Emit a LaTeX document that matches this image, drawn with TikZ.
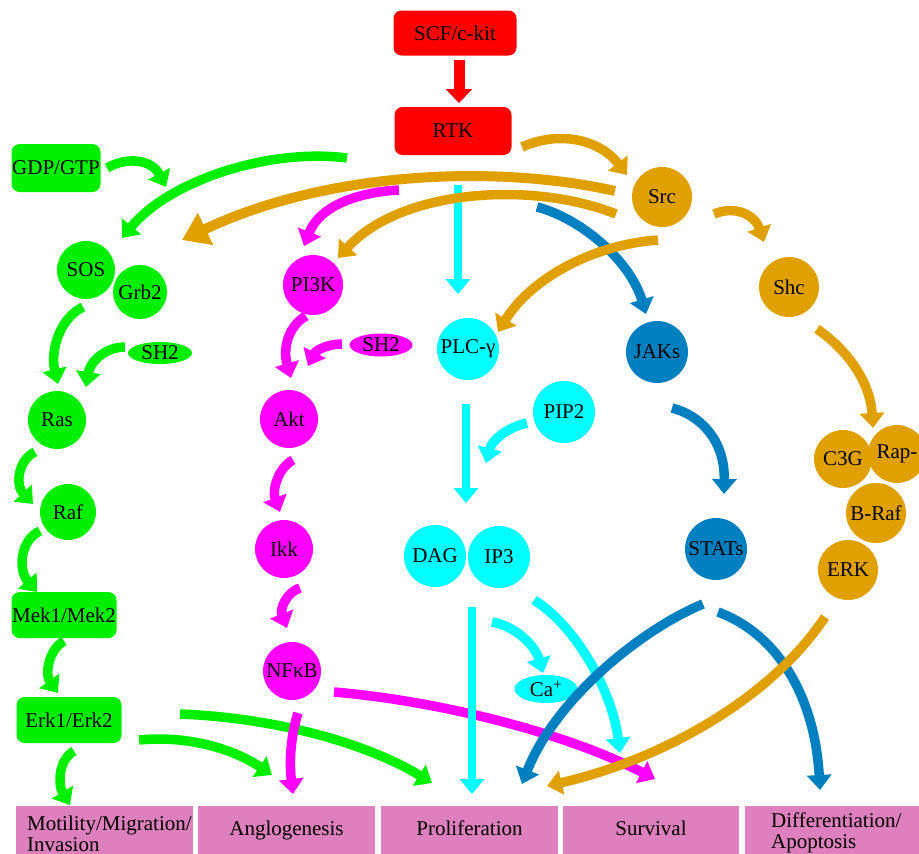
\documentclass[tikz,border=0pt]{standalone}
\usepackage{fontspec}
\setmainfont{Liberation Serif}
\usetikzlibrary{arrows.meta,calc,shapes.geometric}
\definecolor{cgreen}{RGB}{0,240,0}
\definecolor{cmag}{RGB}{255,0,255}
\definecolor{ccyan}{RGB}{0,255,255}
\definecolor{cgold}{RGB}{224,160,0}
\definecolor{cblue}{RGB}{0,128,192}
\definecolor{cred}{RGB}{255,0,0}
\definecolor{cpink}{RGB}{221,128,189}
\begin{document}
\begin{tikzpicture}[x=1pt,y=-1pt,
  font=\fontsize{21}{23}\selectfont,
  circ/.style={circle, inner sep=0pt, outer sep=0pt, minimum size=#1},
  rbox/.style={rectangle, rounded corners=8pt, inner sep=0pt, outer sep=0pt},
  oval/.style={ellipse, inner sep=0pt, outer sep=0pt},
  outbox/.style={rectangle, fill=cpink, inner sep=0pt, outer sep=0pt, minimum height=60pt, anchor=north west},
  arr/.style={line width=9.5pt, -{Triangle[width=24pt,length=15pt]}},
  bigarr/.style={line width=10pt, -{Triangle[width=34pt,length=26pt]}},
  redarr/.style={line width=11pt, -{Triangle[width=26pt,length=14pt]}}
]
\useasboundingbox (0,0) rectangle (919,854);
\clip (0,0) rectangle (919,854);

% ---------- nodes ----------
\node[rbox, fill=cred, minimum width=123pt, minimum height=45pt] (scf) at (455,33) {SCF/c-kit};
\node[rbox, fill=cred, minimum width=117pt, minimum height=48pt] (rtk) at (453,131) {RTK};
\node[rbox, fill=cgreen, minimum width=89pt, minimum height=48pt] (gdp) at (56,168) {GDP/GTP};

\node[circ=60pt, fill=cgold] (src) at (662,197) {Src};
\node[circ=60pt, fill=cgold] (shc) at (789,287) {Shc};

\node[circ=58pt, fill=cgreen] (sos) at (86,270) {SOS};
\node[circ=54pt, fill=cgreen] (grb) at (140,292) {Grb2};
\node[oval, fill=cgreen, minimum width=64pt, minimum height=22pt] (sh2g) at (160,353) {SH2};
\node[circ=58pt, fill=cgreen] (ras) at (57,420) {Ras};
\node[circ=56pt, fill=cgreen] (raf) at (68,512) {Raf};
\node[rbox, fill=cgreen, minimum width=105pt, minimum height=46pt] (mek) at (64,615) {Mek1/Mek2};
\node[rbox, fill=cgreen, minimum width=105pt, minimum height=46pt] (erk) at (69,720) {Erk1/Erk2};

\node[circ=60pt, fill=cmag] (pi3k) at (313,285) {PI3K};
\node[oval, fill=cmag, minimum width=63pt, minimum height=23pt] (sh2m) at (381,345) {SH2};
\node[circ=58pt, fill=cmag] (akt) at (289,419) {Akt};
\node[circ=58pt, fill=cmag] (ikk) at (284,549) {Ikk};
\node[circ=58pt, fill=cmag] (nfkb) at (292,671) {NFκB};

\node[circ=62pt, fill=ccyan] (plc) at (468,349) {PLC-γ};
\node[circ=62pt, fill=ccyan] (pip2) at (564,412) {PIP2};
\node[circ=62pt, fill=ccyan] (dag) at (435,556) {DAG};
\node[circ=62pt, fill=ccyan] (ip3) at (499,557) {IP3};
\node[oval, fill=ccyan, minimum width=63pt, minimum height=28pt] (ca) at (546,689) {Ca\textsuperscript{+}};

\node[circ=62pt, fill=cblue] (jaks) at (657,352) {JAKs};
\node[circ=62pt, fill=cblue] (stats) at (716,549) {STATs};

\node[circ=58pt, fill=cgold] (c3g) at (843,459) {C3G};
\node[circ=58pt, fill=cgold] (rap) at (897,454) {Rap-};
\node[circ=60pt, fill=cgold] (braf) at (876,513) {B-Raf};
\node[circ=60pt, fill=cgold] (erkg) at (848,570) {ERK};

% ---------- outcome boxes ----------
\node[outbox, minimum width=177pt] (mot) at (16,806) {};
\node[outbox, minimum width=177pt] (ang) at (198,806) {};
\node[outbox, minimum width=177pt] (pro) at (381,806) {};
\node[outbox, minimum width=176pt] (sur) at (563,806) {};
\node[outbox, minimum width=180pt] (dif) at (745,806) {};
\node[anchor=base west, inner sep=0pt] (motA) at ($(mot.north west)+(11,24)$) {Motility/Migration/};
\node[anchor=base west, inner sep=0pt] (motB) at ($(mot.north west)+(11,45)$) {Invasion};
\node[anchor=base, inner sep=0pt] (angT) at ($(ang.north)+(0,29)$) {Anglogenesis};
\node[anchor=base, inner sep=0pt] (proT) at ($(pro.north)+(0,29)$) {Proliferation};
\node[anchor=base, inner sep=0pt] (surT) at ($(sur.north)+(0,29)$) {Survival};
\node[anchor=base west, inner sep=0pt] (difA) at ($(dif.north west)+(26,21)$) {Differentiation/};
\node[anchor=base west, inner sep=0pt] (difB) at ($(dif.north west)+(26,42)$) {Apoptosis};

% ---------- red ----------
\draw[redarr, cred] ($(scf)+(4,27)$) -- ($(rtk)+(6,-28)$);

% ---------- green ----------
\draw[arr, cgreen] ($(gdp)+(51,0)$) .. controls (128,156) and (152,160) .. ($(gdp)+(110,19)$);
\draw[arr, cgreen] ($(rtk)+(-106,27)$) .. controls (270,148) and (170,180) .. ($(sos)+(36,-32)$);
\draw[arr, cgreen] ($(sos)+(-3,37)$) .. controls (60,318) and (50,350) .. ($(ras)+(1,-36)$);
\draw[arr, cgreen] ($(sh2g)+(-35,-6)$) .. controls (105,347) and (90,362) .. ($(ras)+(29,-33)$);
\draw[arr, cgreen] ($(ras)+(-22,32)$) .. controls (18,460) and (15,485) .. ($(raf)+(-35,-8)$);
\draw[arr, cgreen] ($(raf)+(-28,19)$) .. controls (20,540) and (18,570) .. ($(mek)+(-27,-23)$);
\draw[arr, cgreen] ($(mek)+(0,26)$) .. controls (48,650) and (45,675) .. ($(erk)+(-11,-27)$);
\draw[arr, cgreen] ($(erk)+(5,31)$) .. controls (58,760) and (58,785) .. ($(mot.north)+(-34.5,-1)$);
\draw[arr, cgreen] ($(erk)+(70,20)$) .. controls (190,735) and (235,750) .. ($(ang.north)+(-14.5,-31)$);
\draw[arr, cgreen] ($(erk)+(111,-6)$) .. controls (280,718) and (370,745) .. ($(pro.north)+(-37.5,-23)$);

% ---------- magenta ----------
\draw[arr, cmag] ($(rtk)+(-54,59)$) .. controls (360,192) and (320,205) .. ($(pi3k)+(-9,-39)$);
\draw[arr, cmag] ($(pi3k)+(-7,31)$) .. controls (287,327) and (283,350) .. ($(akt)+(2,-41)$);
\draw[arr, cmag] ($(sh2m)+(-39,-1)$) .. controls (328,344) and (316,350) .. ($(akt)+(19,-53)$);
\draw[arr, cmag] ($(akt)+(4,41)$) .. controls (278,468) and (272,490) .. ($(ikk)+(-4,-37)$);
\draw[arr, cmag] ($(ikk)+(16,39)$) .. controls (285,593) and (280,610) .. ($(nfkb)+(-5,-43)$);
\draw[arr, cmag] ($(nfkb)+(6,42)$) .. controls (291,735) and (289,760) .. ($(ang.north)+(6.5,-12)$);
\draw[arr, cmag] ($(nfkb)+(42,21)$) .. controls (430,700) and (560,730) .. ($(sur.north)+(4,-27)$);

% ---------- cyan ----------
\draw[arr, ccyan, line width=8.5pt] ($(rtk)+(5,54)$) -- ($(plc)+(-10,-55)$);
\draw[arr, ccyan, line width=8.5pt] ($(plc)+(-2,55)$) -- ($(dag)+(31,-53)$);
\draw[arr, ccyan] ($(pip2)+(-37,11)$) .. controls (508,427) and (492,440) .. ($(dag)+(51,-93)$);
\draw[arr, ccyan] ($(ip3)+(-7,65)$) .. controls (515,626) and (535,645) .. ($(ca)+(-3,-16)$);
\draw[arr, ccyan, line width=8.5pt] ($(dag)+(37,51)$) -- ($(pro.north)+(2.5,-12)$);
\draw[arr, ccyan] ($(ip3)+(35,43)$) .. controls (575,625) and (612,690) .. ($(sur.north)+(-31,-53)$);

% ---------- blue ----------
\draw[arr, cblue] ($(rtk)+(84,76)$) .. controls (580,218) and (630,260) .. ($(jaks)+(-11,-38)$);
\draw[arr, cblue] ($(jaks)+(15,56)$) .. controls (700,415) and (725,440) .. ($(stats)+(8,-55)$);
\draw[arr, cblue] ($(stats)+(-13,55)$) .. controls (640,630) and (555,700) .. ($(pro.north)+(52.5,-22)$);
\draw[arr, cblue] ($(stats)+(2,63)$) .. controls (780,635) and (815,700) .. ($(dif.north)+(-15,-16)$);

% ---------- gold ----------
\draw[arr, cgold] ($(rtk)+(69,16)$) .. controls (560,130) and (600,140) .. ($(src)+(-35,-22)$);
\draw[bigarr, cgold] ($(src)+(-47,-6)$) .. controls (500,165) and (330,170) .. ($(grb)+(42,-52)$);
\draw[arr, cgold] ($(src)+(-46,17)$) .. controls (530,180) and (400,190) .. ($(pi3k)+(25,-27)$);
\draw[arr, cgold] ($(src)+(52,17)$) .. controls (735,205) and (755,215) .. ($(shc)+(-25,-45)$);
\draw[arr, cgold] ($(src)+(-4,43)$) .. controls (590,245) and (530,280) .. ($(plc)+(30,-17)$);
\draw[arr, cgold] ($(shc)+(28,42)$) .. controls (845,348) and (870,380) .. ($(c3g)+(30,-31)$);
\draw[arr, cgold] ($(erkg)+(-23,47)$) .. controls (770,700) and (660,760) .. ($(pro.north)+(77.5,-20)$);
\end{tikzpicture}
\end{document}
